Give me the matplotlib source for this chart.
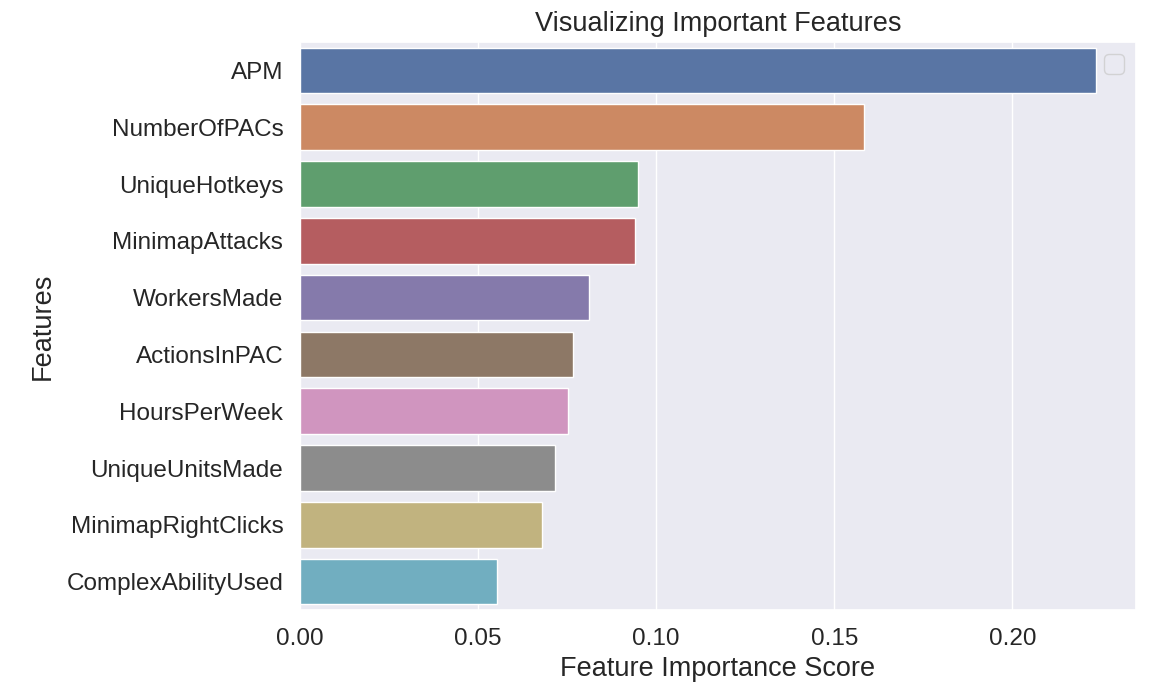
import matplotlib
matplotlib.use("Agg")
import matplotlib.pyplot as plt
import seaborn as sns
import numpy as np
import warnings

features = ["APM", "NumberOfPACs", "UniqueHotkeys", "MinimapAttacks", "WorkersMade",
            "ActionsInPAC", "HoursPerWeek", "UniqueUnitsMade", "MinimapRightClicks",
            "ComplexAbilityUsed"]
scores = [0.2235, 0.1582, 0.0950, 0.0941, 0.0812, 0.0765, 0.0753, 0.0716, 0.0678, 0.0552]
xticks = [0.00, 0.05, 0.10, 0.15, 0.20]
xticklabels = ["0.00", "0.05", "0.10", "0.15", "0.20"]

sns.set_theme(style="darkgrid")
plt.rcParams['font.family'] = ['Liberation Sans', 'DejaVu Sans']

fig = plt.figure(figsize=(11.5, 6.9), dpi=100)
ax = fig.add_axes([300/1150, 1 - 610/690, 836/1150, 568/690])

base = sns.color_palette("deep", len(features))
colors = [sns.desaturate(c, 0.75) for c in base]
y = np.arange(len(features))
ax.barh(y, scores, height=0.8, color=colors, edgecolor="white", linewidth=1)
ax.set_yticks(y)
ax.set_yticklabels(features)
ax.set_ylim(len(features) - 0.5, -0.5)
ax.set_xlim(0, max(scores) * 1.05)
ax.set_xticks(xticks)
ax.set_xticklabels(xticklabels)
ax.tick_params(axis='both', labelsize=17.5, colors='#262626')
ax.tick_params(axis='y', pad=6)
ax.tick_params(axis='x', pad=7)
ax.grid(axis='y', visible=False)
ax.set_xlabel("Feature Importance Score", fontsize=19.5, color='#262626', labelpad=4)
ax.set_ylabel("Features", fontsize=19.5, color='#262626', labelpad=8)
ax.set_title("Visualizing Important Features", fontsize=19.5, color='#262626', pad=8)
with warnings.catch_warnings():
    warnings.simplefilter("ignore")
    ax.legend(loc="upper right", fontsize=17.5)

fig.savefig("out.png", dpi=100)
